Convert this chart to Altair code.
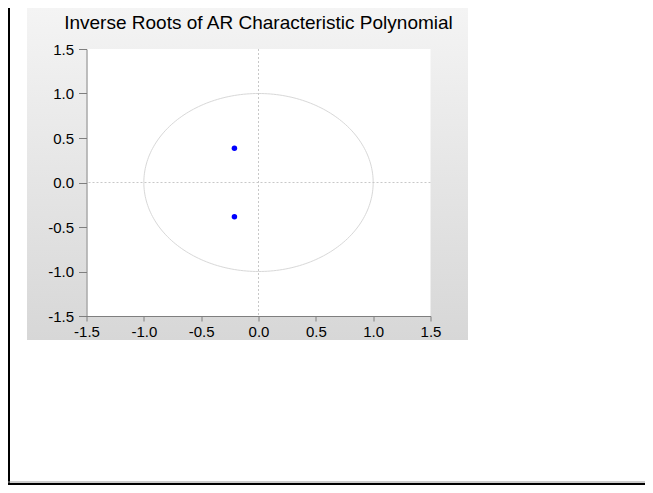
import altair as alt
import numpy as np
import pandas as pd

# Inverse roots (real, imaginary)
root_re = [-0.21, -0.21]
root_im = [0.385, -0.385]

ticks = [-1.5, -1.0, -0.5, 0.0, 0.5, 1.0, 1.5]
title_text = ["Inverse Roots of AR Characteristic Polynomial"]

# unit circle (reference geometry)
ang = np.linspace(0, 2 * np.pi, 241)
circle = pd.DataFrame({"x": np.cos(ang), "y": np.sin(ang), "o": np.arange(len(ang))})
roots = pd.DataFrame({"x": root_re, "y": root_im})
frame = pd.DataFrame({"x": [ticks[0]], "x2": [ticks[-1]], "y": [ticks[0]], "y2": [ticks[-1]]})
zero = pd.DataFrame({"v": [0.0]})
one = pd.DataFrame({"a": [0]})
titles = pd.DataFrame({"t": title_text})

W, H = 344, 267
sc = alt.Scale(domain=[ticks[0], ticks[-1]], nice=False, zero=False)
font = "Liberation Sans"
lab = "replace(format(datum.value, '.1f'), '\u2212', '-')"

xax = alt.Axis(values=ticks, labelExpr=lab, grid=False, tickSize=5, labelPadding=3,
               labelFlush=False, labelOverlap=False,
               domainColor="#7f7f7f", tickColor="#7f7f7f", labelColor="#000000",
               labelFont=font, labelFontSize=15, zindex=2)
yax = alt.Axis(values=ticks, labelExpr=lab, grid=False, tickSize=8, labelPadding=5,
               labelFlush=False, labelOverlap=False,
               domainColor="#7f7f7f", tickColor="#7f7f7f", labelColor="#000000",
               labelFont=font, labelFontSize=15, zindex=2)

grad = alt.LinearGradient(
    gradient="linear",
    stops=[alt.GradientStop(color="#f4f4f4", offset=0),
           alt.GradientStop(color="#d7d7d7", offset=1)],
    x1=0, x2=0, y1=0, y2=1)

panel = alt.Chart(one).mark_rect(fill=grad, clip=False).encode(
    x=alt.value(-59.5), x2=alt.value(381.5), y=alt.value(-41), y2=alt.value(291))

left_line = alt.Chart(one).mark_rule(color="#000000", strokeWidth=2, clip=False).encode(
    x=alt.value(-77.5), y=alt.value(-41), y2=alt.value(436))
bottom_line = alt.Chart(one).mark_rule(color="#000000", strokeWidth=2, clip=False).encode(
    y=alt.value(435), x=alt.value(-78.5), x2=alt.value(558.5))
bottom_line2 = alt.Chart(one).mark_rule(color="#9a9a9a", strokeWidth=1, clip=False).encode(
    y=alt.value(433), x=alt.value(-78.5), x2=alt.value(558.5))

title = alt.Chart(titles).mark_text(font=font, fontSize=19, color="#000000",
                                    align="center", baseline="middle", clip=False).encode(
    text="t:N", x=alt.value(W / 2), y=alt.value(-26.5))

plotbg = alt.Chart(frame).mark_rect(fill="#ffffff").encode(
    x=alt.X("x:Q", scale=sc, axis=xax, title=None),
    x2="x2:Q",
    y=alt.Y("y:Q", scale=sc, axis=yax, title=None),
    y2="y2:Q")

circ = alt.Chart(circle).mark_line(color="#d8d8d8", strokeWidth=1).encode(
    x=alt.X("x:Q", scale=sc), y=alt.Y("y:Q", scale=sc), order="o:Q")

vline = alt.Chart(zero).mark_rule(color="#c8c8c8", strokeDash=[2, 2], strokeWidth=1).encode(
    x=alt.X("v:Q", scale=sc))
hline = alt.Chart(zero).mark_rule(color="#c8c8c8", strokeDash=[2, 2], strokeWidth=1).encode(
    y=alt.Y("v:Q", scale=sc))

pts = alt.Chart(roots).mark_circle(color="#0000ff", size=30, opacity=1).encode(
    x=alt.X("x:Q", scale=sc), y=alt.Y("y:Q", scale=sc))

chart = alt.layer(panel, left_line, bottom_line2, bottom_line, title, plotbg, circ, vline, hline, pts).properties(
    width=W, height=H,
    autosize=alt.AutoSizeParams(type="none"),
    padding={"left": 78.5, "top": 41, "right": 214.5, "bottom": 169},
    background="#ffffff",
).configure_view(stroke="#7f7f7f", strokeWidth=1)

chart.save("out.html", embed_options={"renderer": "svg", "actions": False})
